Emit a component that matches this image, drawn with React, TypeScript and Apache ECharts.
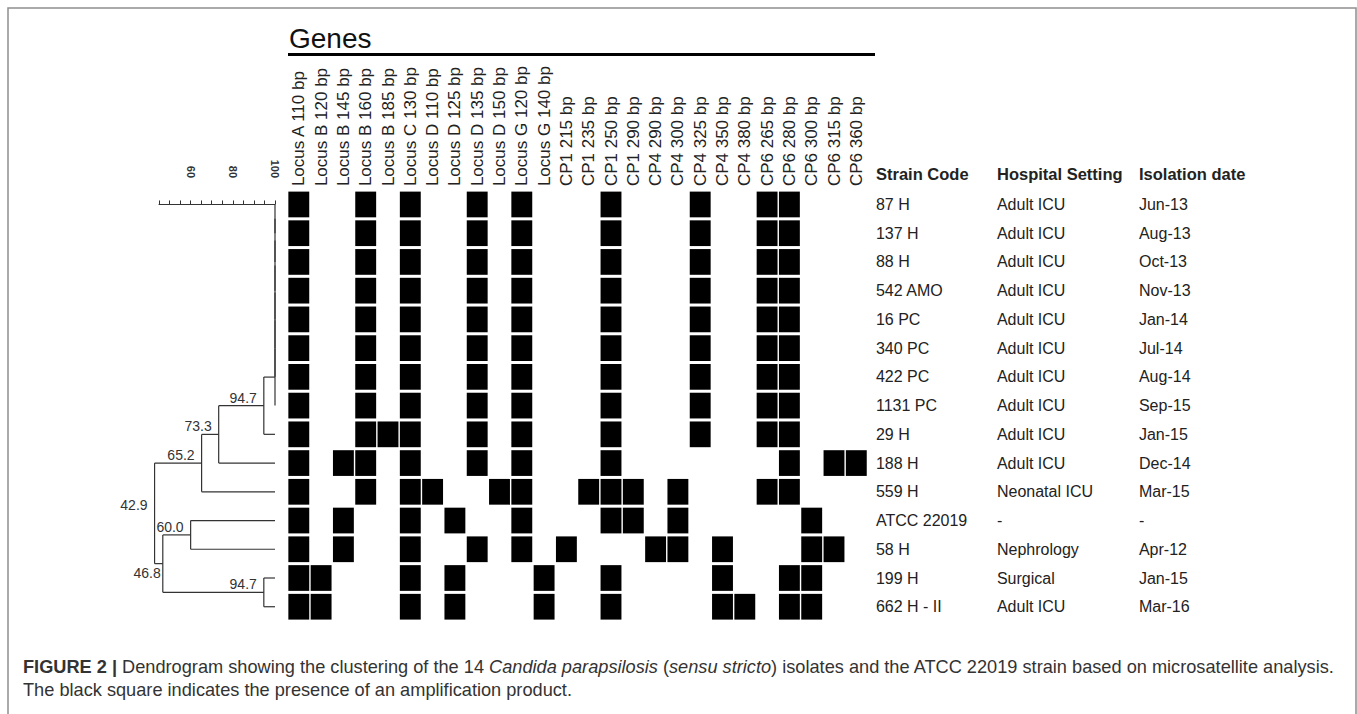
import React, { useEffect, useRef } from "react";
import * as echarts from "echarts";

const FONT = "'Liberation Sans', Arial, Helvetica, sans-serif";

const genes = [
  "Locus A 110 bp", "Locus B 120 bp", "Locus B 145 bp", "Locus B 160 bp", "Locus B 185 bp",
  "Locus C 130 bp", "Locus D 110 bp", "Locus D 125 bp", "Locus D 135 bp", "Locus D 150 bp",
  "Locus G 120 bp", "Locus G 140 bp", "CP1 215 bp", "CP1 235 bp", "CP1 250 bp",
  "CP1 290 bp", "CP4 290 bp", "CP4 300 bp", "CP4 325 bp", "CP4 350 bp",
  "CP4 380 bp", "CP6 265 bp", "CP6 280 bp", "CP6 300 bp", "CP6 315 bp", "CP6 360 bp",
];

const strains = [
  "87 H", "137 H", "88 H", "542 AMO", "16 PC", "340 PC", "422 PC", "1131 PC",
  "29 H", "188 H", "559 H", "ATCC 22019", "58 H", "199 H", "662 H - II",
];

const hospitals = [
  "Adult ICU", "Adult ICU", "Adult ICU", "Adult ICU", "Adult ICU", "Adult ICU", "Adult ICU",
  "Adult ICU", "Adult ICU", "Adult ICU", "Neonatal ICU", "-", "Nephrology", "Surgical", "Adult ICU",
];

const dates = [
  "Jun-13", "Aug-13", "Oct-13", "Nov-13", "Jan-14", "Jul-14", "Aug-14", "Sep-15",
  "Jan-15", "Dec-14", "Mar-15", "-", "Apr-12", "Jan-15", "Mar-16",
];

// indices of genes (columns) present for each strain (row)
const presence: number[][] = [
  [0, 3, 5, 8, 10, 14, 18, 21, 22],
  [0, 3, 5, 8, 10, 14, 18, 21, 22],
  [0, 3, 5, 8, 10, 14, 18, 21, 22],
  [0, 3, 5, 8, 10, 14, 18, 21, 22],
  [0, 3, 5, 8, 10, 14, 18, 21, 22],
  [0, 3, 5, 8, 10, 14, 18, 21, 22],
  [0, 3, 5, 8, 10, 14, 18, 21, 22],
  [0, 3, 5, 8, 10, 14, 18, 21, 22],
  [0, 3, 4, 5, 8, 10, 14, 18, 21, 22],
  [0, 2, 3, 5, 8, 10, 14, 22, 24, 25],
  [0, 3, 5, 6, 9, 10, 13, 14, 15, 17, 21, 22],
  [0, 2, 5, 7, 10, 14, 15, 17, 23],
  [0, 2, 5, 8, 10, 12, 16, 17, 19, 23, 24],
  [0, 1, 5, 7, 11, 14, 19, 22, 23],
  [0, 1, 5, 7, 11, 14, 19, 20, 22, 23],
];

// dendrogram merges: [childA, childB, similarity]; leaves 0..14, new nodes from 15
const merges: [number, number, number][] = [
  [0, 1, 100], [15, 2, 100], [16, 3, 100], [17, 4, 100], [18, 5, 100],
  [19, 6, 100], [20, 7, 100], [21, 8, 94.7], [22, 9, 73.3], [23, 10, 65.2],
  [11, 12, 60.0], [13, 14, 94.7], [25, 26, 46.8], [24, 27, 42.9],
];

const scaleTicks = [60, 80, 100];

export default function App() {
  const ref = useRef<HTMLDivElement>(null);
  useEffect(() => {
    if (!ref.current) return;
    const chart = echarts.init(ref.current, undefined, { renderer: "svg" });

    const n = strains.length;
    const nodeX: number[] = [];
    const nodeY: number[] = [];
    for (let i = 0; i < n; i++) {
      nodeX[i] = 100;
      nodeY[i] = i;
    }
    const segments: number[][] = [];
    const nodeLabels: { x: number; y: number; text: string; below: boolean }[] = [];
    merges.forEach(([a, b, s], k) => {
      const id = n + k;
      nodeX[id] = s;
      nodeY[id] = (nodeY[a] + nodeY[b]) / 2;
      segments.push([s, nodeY[a], s, nodeY[b]]);
      if (nodeX[a] !== s) segments.push([s, nodeY[a], nodeX[a], nodeY[a]]);
      if (nodeX[b] !== s) segments.push([s, nodeY[b], nodeX[b], nodeY[b]]);
      if (s < 100) {
        nodeLabels.push({ x: s, y: nodeY[id], text: s.toFixed(1), below: s === 46.8 });
      }
    });

    const cells: number[][] = [];
    presence.forEach((cols, r) => cols.forEach((c) => cells.push([c, r])));

    const gridTop = 190.1;
    const gridH = 431;

    chart.setOption({
      animation: false,
      textStyle: { fontFamily: FONT },
      grid: [
        { left: 159, top: gridTop, width: 116, height: gridH },
        { left: 287.65, top: gridTop, width: 579.8, height: gridH },
      ],
      xAxis: [
        {
          type: "value",
          gridIndex: 0,
          min: 45,
          max: 100,
          interval: 5,
          position: "top",
          axisLine: { show: true, lineStyle: { color: "#333", width: 1 } },
          axisTick: { show: true, length: 4, inside: false, lineStyle: { color: "#333", width: 1 } },
          axisLabel: {
            rotate: -90,
            margin: 12,
            fontSize: 11,
            fontWeight: "bold",
            color: "#333",
            formatter: (v: number) => (scaleTicks.includes(v) ? String(v) : ""),
          },
          splitLine: { show: false },
        },
        {
          type: "category",
          gridIndex: 1,
          data: genes,
          position: "top",
          axisLine: { show: false },
          axisTick: { show: false },
          axisLabel: { rotate: -90, interval: 0, fontSize: 17, color: "#222", margin: 4 },
          splitLine: { show: false },
        },
      ],
      yAxis: [
        { type: "value", gridIndex: 0, min: -0.5, max: 14.5, inverse: true, show: false },
        {
          type: "category",
          gridIndex: 1,
          data: strains,
          inverse: true,
          position: "right",
          axisLine: { show: false },
          axisTick: { show: false },
          splitLine: { show: false },
          axisLabel: {
            margin: 8.5,
            interval: 0,
            fontSize: 16,
            color: "#222",
            formatter: (_v: string, i: number) => `{a|${strains[i]}}{b|${hospitals[i]}}{c|${dates[i]}}`,
            rich: {
              a: { width: 121, fontSize: 16, color: "#222" },
              b: { width: 142, fontSize: 16, color: "#222" },
              c: { fontSize: 16, color: "#222" },
            },
          },
        },
      ],
      series: [
        {
          type: "custom",
          xAxisIndex: 0,
          yAxisIndex: 0,
          clip: false,
          data: segments,
          encode: { x: [0, 2], y: [1, 3] },
          renderItem: (_p: any, api: any) => {
            const p1 = api.coord([api.value(0), api.value(1)]);
            const p2 = api.coord([api.value(2), api.value(3)]);
            return {
              type: "line",
              shape: { x1: p1[0], y1: p1[1], x2: p2[0], y2: p2[1] },
              style: { stroke: "#333", lineWidth: 1.2 },
            };
          },
        },
        {
          type: "custom",
          xAxisIndex: 0,
          yAxisIndex: 0,
          clip: false,
          data: nodeLabels.map((d) => [d.x, d.y]),
          renderItem: (params: any, api: any) => {
            const d = nodeLabels[params.dataIndex];
            const p = api.coord([api.value(0), api.value(1)]);
            return {
              type: "text",
              x: d.below ? p[0] - 2 : p[0] - 7,
              y: d.below ? p[1] + 2 : p[1] - 1,
              style: {
                text: d.text,
                fontSize: 14,
                fontFamily: FONT,
                fill: "#333",
                align: "right",
                verticalAlign: d.below ? "top" : "bottom",
              },
            };
          },
        },
        {
          type: "custom",
          xAxisIndex: 1,
          yAxisIndex: 1,
          data: cells,
          encode: { x: 0, y: 1 },
          renderItem: (_p: any, api: any) => {
            const c = api.coord([api.value(0), api.value(1)]);
            const s = api.size([1, 1]);
            return {
              type: "rect",
              shape: { x: c[0] - s[0] / 2 + 0.7, y: c[1] - s[1] / 2 + 1.5, width: s[0] - 1.4, height: s[1] - 3 },
              style: { fill: "#000" },
            };
          },
        },
      ],
      graphic: [
        {
          type: "polyline",
          shape: { points: [[8, 714], [8, 8], [1356, 8], [1356, 714]] },
          style: { stroke: "#8e8e8e", lineWidth: 1.5, fill: null },
        },
        {
          type: "text",
          x: 289,
          y: 38,
          style: { text: "Genes", fontSize: 28, fontFamily: FONT, fill: "#111", align: "left", verticalAlign: "middle" },
        },
        {
          type: "line",
          shape: { x1: 288, y1: 54.5, x2: 875, y2: 54.5 },
          style: { stroke: "#000", lineWidth: 3 },
        },
        {
          type: "text",
          x: 876,
          y: 174,
          style: {
            text: "{a|Strain Code}{b|Hospital Setting}{c|Isolation date}",
            align: "left",
            verticalAlign: "middle",
            fontFamily: FONT,
            rich: {
              a: { width: 121, fontSize: 16.5, fontWeight: "bold", fill: "#222", fontFamily: FONT },
              b: { width: 142, fontSize: 16.5, fontWeight: "bold", fill: "#222", fontFamily: FONT },
              c: { fontSize: 16.5, fontWeight: "bold", fill: "#222", fontFamily: FONT },
            },
          },
        },
        {
          type: "text",
          x: 23,
          y: 655,
          style: {
            text:
              "{b|FIGURE 2 |} Dendrogram showing the clustering of the 14 {i|Candida parapsilosis} ({i|sensu stricto}) isolates and the ATCC 22019 strain based on microsatellite analysis.\nThe black square indicates the presence of an amplification product.",
            fontSize: 18.2,
            lineHeight: 23,
            fontFamily: FONT,
            fill: "#333",
            align: "left",
            verticalAlign: "top",
            rich: {
              b: { fontWeight: "bold", fontSize: 18.2, lineHeight: 23, fill: "#333", fontFamily: FONT },
              i: { fontStyle: "italic", fontSize: 18.2, lineHeight: 23, fill: "#333", fontFamily: FONT },
            },
          },
        },
      ],
    });
    return () => chart.dispose();
  }, []);
  return (
    <div
      ref={ref}
      style={{ position: "fixed", left: 0, top: 0, width: 1357, height: 714, background: "#fff" }}
    />
  );
}
